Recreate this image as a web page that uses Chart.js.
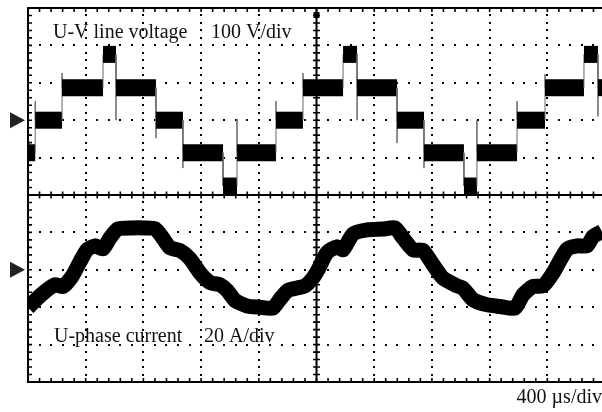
<!DOCTYPE html>
<html>
<head>
<meta charset="utf-8">
<script src="https://cdn.jsdelivr.net/npm/chart.js@4.4.0/dist/chart.umd.min.js"></script>
<style>
  html, body { margin: 0; padding: 0; background: #fff; }
  #wrap { width: 602px; height: 412px; }
</style>
</head>
<body>
<div id="wrap"><canvas id="scope"></canvas></div>
<script>
//Base de tiempo: 400 us/div, la foto corta el borde derecho
const timeDiv = 400;
const timeEnd = 3979;

//Tension de linea U-V: instantes de conmutacion (us), nivel entre ellos (V), pico en cada flanco (V)
const vEdges = [50, 236, 520, 610, 887, 1074, 1352, 1449, 1719, 1906, 2184, 2281, 2558, 2745, 3022, 3112, 3390, 3584, 3854, 3951];
const vLevels = [-87, 0, 87, 176, 87, 0, -87, -176, -87, 0, 87, 176, 87, 0, -87, -176, -87, 0, 87, 176, 87];
const vSpikes = [51, 126, 176, 0, -48, -128, -176, 3, 51, 126, 176, 0, -61, -128, -176, 0, 51, 123, 176, 10];

//Corriente de fase U: tiempo (us) y valor (A)
const iTimes = [0, 49, 118, 187, 243, 305, 361, 409, 464, 520, 568, 624, 721, 811, 880, 929, 984, 1054, 1123, 1192,
  1262, 1331, 1380, 1435, 1518, 1608, 1698, 1747, 1802, 1872, 1920, 1969, 2010, 2073, 2142, 2184, 2253, 2350, 2461, 2544,
  2600, 2669, 2738, 2808, 2877, 2974, 3015, 3085, 3182, 3272, 3376, 3431, 3501, 3570, 3639, 3736, 3806, 3875, 3917, 3979];
const iAmps = [-20.3, -16.4, -11.6, -8, -8.9, -3.6, 4.4, 10.7, 12.8, 11.2, 17, 21.9, 22.4, 22.4, 22, 17.6, 11.8, 10.3, 5.9, -1.6,
  -6.8, -8, -11, -16.4, -19.3, -20, -20.5, -15.7, -11, -9.6, -8.6, -5, 0, 9.3, 12.3, 10.7, 19.2, 21.4, 21.8, 22.4,
  17, 10.7, 10.3, 2.7, -4.5, -8.6, -9.8, -16, -18.7, -19.6, -20.5, -13.4, -8.9, -8.6, -1.8, 11, 12.8, 12.8, 17.8, 20.5];

//Escalas verticales (10 div en total)
const voltDiv = 100, voltMin = -700, voltMax = 300;
const ampDiv = 20, ampMin = -60, ampMax = 140;

//Textos
const voltLabel = ['U-V line voltage', '100 V/div'];
const ampLabel = ['U-phase current', '20 A/div'];
const timeLabel = '400 \u00b5s/div';

//Puntos de la tension (escalones)
let voltPts = [{ x: 0, y: vLevels[0] }];
vEdges.forEach(function (t, i) {
  voltPts.push({ x: t, y: vLevels[i] });
  voltPts.push({ x: t, y: vSpikes[i] });
  voltPts.push({ x: t, y: vLevels[i + 1] });
});
voltPts.push({ x: timeEnd, y: vLevels[vLevels.length - 1] });

let ampPts = iTimes.map(function (t, i) { return { x: t, y: iAmps[i] }; });

function isEdge(c) { return c.p0.parsed.x === c.p1.parsed.x; }

//Reticula del osciloscopio
const graticule = {
  id: 'graticule',
  beforeDatasetsDraw(chart) {
    const ctx = chart.ctx;
    const a = chart.chartArea;
    const xs = chart.scales.x;
    const yv = chart.scales.yV;
    const divW = xs.getPixelForValue(timeDiv) - xs.getPixelForValue(0);
    const divH = yv.getPixelForValue(0) - yv.getPixelForValue(voltDiv);
    const midX = xs.getPixelForValue(timeDiv * 5);
    const midY = yv.getPixelForValue(voltMin + voltDiv * 5);
    ctx.save();
    ctx.fillStyle = '#000';
    //lineas punteadas verticales
    for (let k = 1; k < 10; k++) {
      if (k === 5) continue;
      const px = xs.getPixelForValue(timeDiv * k);
      if (px > a.right) continue;
      for (let y = a.top; y <= a.bottom + 0.5; y += divH / 5) ctx.fillRect(Math.round(px) - 1, Math.round(y) - 1, 2, 2);
    }
    //lineas punteadas horizontales
    for (let k = 1; k < 10; k++) {
      if (k === 5) continue;
      const py = yv.getPixelForValue(voltMin + voltDiv * k);
      for (let x = a.left; x <= a.right; x += divW / 5) ctx.fillRect(Math.round(x) - 1, Math.round(py) - 1, 2, 2);
    }
    //marco y ejes centrales
    ctx.strokeStyle = '#000';
    ctx.lineWidth = 2;
    ctx.beginPath();
    ctx.moveTo(a.left, a.top); ctx.lineTo(a.right, a.top);
    ctx.moveTo(a.left, a.bottom); ctx.lineTo(a.right, a.bottom);
    ctx.moveTo(a.left, a.top - 1); ctx.lineTo(a.left, a.bottom + 1);
    ctx.moveTo(a.left, midY); ctx.lineTo(a.right, midY);
    ctx.moveTo(midX, a.top); ctx.lineTo(midX, a.bottom);
    ctx.stroke();
    //marcas pequenas
    ctx.lineWidth = 1.6;
    ctx.beginPath();
    for (let x = a.left + divW / 5; x < a.right; x += divW / 5) {
      ctx.moveTo(x, a.top); ctx.lineTo(x, a.top + 4);
      ctx.moveTo(x, a.bottom); ctx.lineTo(x, a.bottom - 4);
      ctx.moveTo(x, midY - 3.5); ctx.lineTo(x, midY + 3.5);
    }
    for (let y = a.top + divH / 5; y < a.bottom; y += divH / 5) {
      ctx.moveTo(a.left, y); ctx.lineTo(a.left + 4, y);
      ctx.moveTo(midX - 3.5, y); ctx.lineTo(midX + 3.5, y);
    }
    ctx.stroke();
    //marca de disparo
    ctx.fillRect(midX - 3, a.top + 4, 6, 6);
    ctx.restore();
  },
  afterDatasetsDraw(chart) {
    const ctx = chart.ctx;
    const a = chart.chartArea;
    const y0v = chart.scales.yV.getPixelForValue(0);
    const y0i = chart.scales.yI.getPixelForValue(0);
    ctx.save();
    ctx.fillStyle = '#222';
    [y0v, y0i].forEach(function (y) {
      ctx.beginPath();
      ctx.moveTo(a.left - 18, y - 8);
      ctx.lineTo(a.left - 3, y);
      ctx.lineTo(a.left - 18, y + 8);
      ctx.closePath();
      ctx.fill();
    });
    ctx.fillStyle = '#111';
    ctx.font = '20px "Liberation Serif", "Times New Roman", serif';
    ctx.textBaseline = 'alphabetic';
    ctx.textAlign = 'left';
    ctx.fillText(voltLabel[0], a.left + 25, a.top + 29.5);
    ctx.fillText(voltLabel[1], a.left + 183, a.top + 29.5);
    ctx.fillText(ampLabel[0], a.left + 26, a.top + 333.5);
    ctx.fillText(ampLabel[1], a.left + 176, a.top + 333.5);
    ctx.textAlign = 'right';
    ctx.fillText(timeLabel, chart.width, a.bottom + 21);
    ctx.restore();
  }
};

const ctx = document.getElementById('scope').getContext('2d');
new Chart(ctx, {
  type: 'line',
  data: {
    datasets: [
      {
        label: 'U-V line voltage',
        data: voltPts,
        yAxisID: 'yV',
        borderColor: '#000',
        borderWidth: 17,
        pointRadius: 0,
        tension: 0,
        segment: {
          borderWidth: function (c) { return isEdge(c) ? 1 : 17; },
          borderColor: function (c) { return isEdge(c) ? '#666' : '#000'; }
        }
      },
      {
        label: 'U-phase current',
        data: ampPts,
        yAxisID: 'yI',
        borderColor: '#000',
        borderWidth: 15,
        borderJoinStyle: 'round',
        pointRadius: 0,
        tension: 0.2
      }
    ]
  },
  options: {
    responsive: true,
    maintainAspectRatio: false,
    animation: false,
    layout: { padding: { left: 28, top: 8, right: 0, bottom: 30 } },
    plugins: {
      legend: { display: false },
      tooltip: { enabled: false }
    },
    scales: {
      x: { type: 'linear', min: 0, max: timeEnd, display: false },
      yV: { type: 'linear', min: voltMin, max: voltMax, display: false },
      yI: { type: 'linear', min: ampMin, max: ampMax, display: false }
    }
  },
  plugins: [graticule]
});
</script>
</body>
</html>
